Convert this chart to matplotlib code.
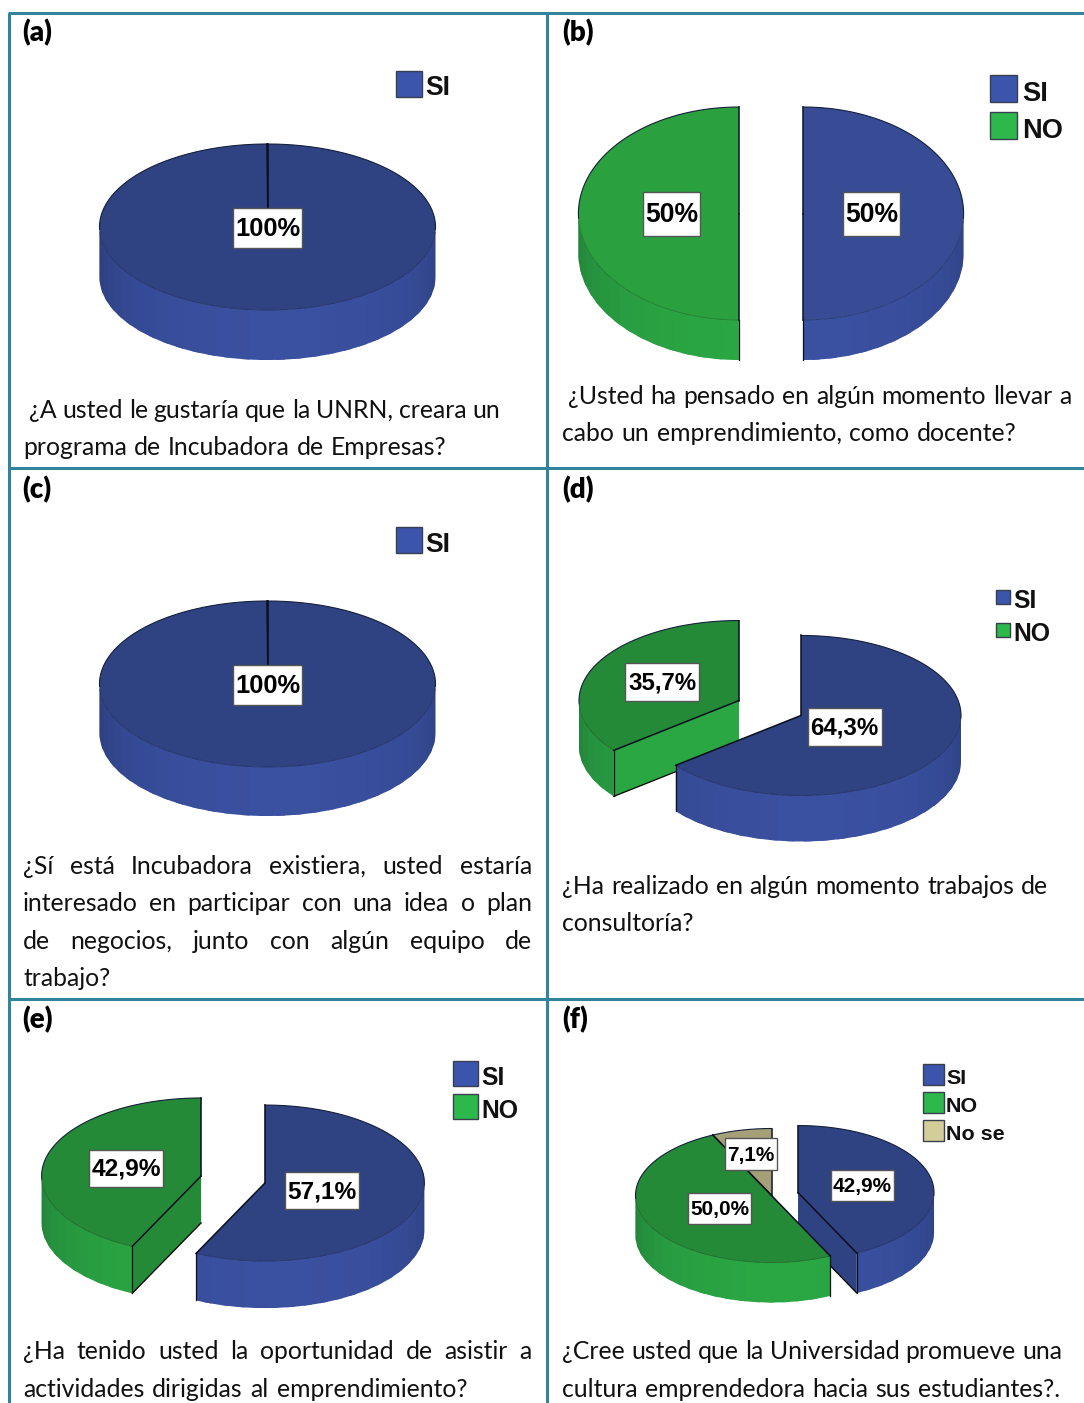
import numpy as np
import matplotlib
matplotlib.use('Agg')
from matplotlib import pyplot as plt
from matplotlib.colors import to_rgb
from matplotlib.patches import Polygon, Rectangle

# survey answers per panel, in percent
labels_a = ['SI']
values_a = [100]
labels_b = ['SI', 'NO']
values_b = [50, 50]
labels_c = ['SI']
values_c = [100]
labels_d = ['SI', 'NO']
values_d = [64.3, 35.7]
labels_e = ['SI', 'NO']
values_e = [57.1, 42.9]
labels_f = ['SI', 'NO', 'No se']
values_f = [42.9, 50.0, 7.1]

question_a = [(' ¿A usted le gustaría que la UNRN, creara un', 29, 500, 410),
              ('programa de Incubadora de Empresas?', 23, 446, 447)]
question_b = [('¿Usted ha pensado en algún momento llevar a', 568, 1071, 396),
              ('cabo un emprendimiento, como docente?', 562, 1017, 433)]
question_c = [('¿Sí está Incubadora existiera, usted estaría', 23, 532, 866),
              ('interesado en participar con una idea o plan', 23, 532, 903),
              ('de negocios, junto con algún equipo de', 23, 532, 941),
              ('trabajo?', 23, 113, 978)]
question_d = [('¿Ha realizado en algún momento trabajos de', 562, 1048, 886),
              ('consultoría?', 562, 695, 923)]
question_e = [('¿Ha tenido usted la oportunidad de asistir a', 23, 532, 1351),
              ('actividades dirigidas al emprendimiento?', 23, 467, 1389)]
question_f = [('¿Cree usted que la Universidad promueve una', 562, 1062, 1351),
              ('cultura emprendedora hacia sus estudiantes?.', 562, 1060, 1389)]

TEAL = '#31849B'
BODY_FONT = 'Lato'
MARK_FONT = 'Liberation Sans'
BODY_SIZE = 17.8

# colours per answer: top face, bright wall, dark wall, legend swatch
PALETTE = {
    'SI': ('#2F4282', '#3A50A0', '#2B3D7A', '#3B55AC'),
    'NO': ('#258A38', '#2AA643', '#22803A', '#2CB84A'),
    'No se': ('#A5A077', '#C4BF90', '#96916B', '#D2CD99'),
}

fig = plt.figure(figsize=(10.84, 14.03), dpi=100)
ax = fig.add_axes([0, 0, 1, 1])
ax.set_xlim(0, 1084)
ax.set_ylim(1403, 0)
ax.axis('off')


def mix(c1, c2, t):
    a, b = np.array(to_rgb(c1)), np.array(to_rgb(c2))
    return tuple(a + (b - a) * t)


def rim(cx, cy, rx, ry, th):
    # th is clockwise from twelve o'clock, in degrees
    r = np.radians(th)
    return cx + rx * np.sin(r), cy - ry * np.cos(r)


def draw_slice(cx, cy, rx, ry, depth, th1, th2, colors, top_color, z):
    top, bright, dark, _ = colors
    if top_color is not None:
        top = top_color
    s1, s2 = np.sin(np.radians(th1)), np.sin(np.radians(th2))

    # cut faces that turn towards the viewer
    for th, facing, ny in [(th1, s1 < -1e-6, s1), (th2, s2 > 1e-6, -s2)]:
        if not facing:
            continue
        x, y = rim(cx, cy, rx, ry, th)
        col = bright if -ny > 0.6 else top
        ax.add_patch(Polygon([(cx, cy), (x, y), (x, y + depth), (cx, cy + depth)],
                             closed=True, fc=col, ec='none', zorder=z))
        ax.plot([x, cx], [y + depth, cy + depth], color='black', lw=0.9, zorder=z + 0.1)

    # outer wall, strips overlap the next one so no seams show between them
    a = max(th1, 90)
    b = min(th2, 270)
    if b > a:
        edges = np.linspace(a, b, max(2, int((b - a) / 6)) + 1)
        for e1, e2 in zip(edges[:-1], edges[1:]):
            mid = (e1 + e2) / 2
            t = 1 - (abs(mid - 175) / 95) ** 2.2
            col = mix(dark, bright, np.clip(t, 0, 1))
            fine = np.linspace(e1, min(e2 + 3, b), 8)
            xs, ys = rim(cx, cy, rx, ry, fine)
            pts = list(zip(xs, ys)) + list(zip(xs[::-1], ys[::-1] + depth))
            ax.add_patch(Polygon(pts, closed=True, fc=col, ec='none', zorder=z + 0.05))

    # top face
    arc = np.linspace(th1, th2, 240)
    xs, ys = rim(cx, cy, rx, ry, arc)
    full = th2 - th1 >= 359.9
    pts = list(zip(xs, ys)) if full else [(cx, cy)] + list(zip(xs, ys))
    ax.add_patch(Polygon(pts, closed=True, fc=top, ec='none', zorder=z + 0.2))

    # rim lines: dark at the back, faint along the front
    back = np.cos(np.radians(arc)) >= -0.05
    bx, by = xs.copy(), ys.copy()
    bx[~back] = np.nan
    ax.plot(bx, by, color='#15203A', lw=0.8, zorder=z + 0.3)
    fx, fy = xs.copy(), ys.copy()
    fx[back] = np.nan
    ax.plot(fx, fy, color=mix(top, '#000000', 0.25), lw=0.6, zorder=z + 0.3)

    # straight edges of the slice
    for th in (th1, th2):
        x, y = rim(cx, cy, rx, ry, th)
        ax.plot([cx, x], [cy, y], color='#0A0F1E', lw=1.1, zorder=z + 0.35)
        if np.cos(np.radians(th)) < 0.01:
            ax.plot([x, x], [y, y + depth], color='#0A0F1E', lw=0.9, zorder=z + 0.35)


def draw_pie(labels, values, cx, cy, rx, ry, depth, explode, tops=None):
    total = sum(values)
    parts = []
    start = 0.0
    for i, v in enumerate(values):
        end = start + 360.0 * v / total
        parts.append((labels[i], start, end, explode[i]))
        start = end
    # slices nearer the viewer are painted last
    parts.sort(key=lambda p: -np.cos(np.radians((p[1] + p[2]) / 2)))
    for n, (name, th1, th2, ex) in enumerate(parts):
        mid = np.radians((th1 + th2) / 2)
        px = cx + ex * rx * np.sin(mid)
        py = cy - ex * ry * np.cos(mid)
        top = None if tops is None else tops[name]
        draw_slice(px, py, rx, ry, depth, th1, th2, PALETTE[name], top, 3 + n)


def draw_tags(values, spots, px, decimals, w, h):
    for v, (x, y) in zip(values, spots):
        txt = f'{v:.{decimals}f}%'.replace('.', ',')
        ax.add_patch(Rectangle((x - w / 2, y - h / 2), w, h, fc='white', ec='#555555',
                               lw=1, zorder=19))
        ax.text(x, y + 1, txt, fontsize=px * 0.72, fontweight='bold', family=MARK_FONT,
                ha='center', va='center', zorder=20, color='black')


def draw_legend(labels, x, ys, size, px, text_x, shift):
    for name, y in zip(labels, ys):
        ax.add_patch(Rectangle((x, y), size, size, fc=PALETTE[name][3], ec='#3A3F50',
                               lw=1, zorder=5))
        ax.text(text_x, y + size * 0.6 + shift, name, fontsize=px * 0.72, fontweight='bold',
                family=MARK_FONT, va='center', ha='left', color='#111111', zorder=5)


def draw_question(lines):
    # each line is stretched word by word between its two ends
    renderer = fig.canvas.get_renderer()
    inv = ax.transData.inverted()
    for line, x0, x1, y in lines:
        words = line.split()
        items = [ax.text(0, y + 8, w, fontsize=BODY_SIZE, family=BODY_FONT, color='#111111',
                         va='baseline', ha='left') for w in words]
        widths = []
        for t in items:
            bb = t.get_window_extent(renderer)
            widths.append(inv.transform((bb.x1, 0))[0] - inv.transform((bb.x0, 0))[0])
        gap = (x1 - x0 - sum(widths)) / max(1, len(words) - 1)
        x = x0
        for t, w in zip(items, widths):
            t.set_x(x)
            x += w + gap


# table rules
for y in (13, 468, 999):
    ax.plot([8, 1084], [y, y], color=TEAL, lw=2.2, solid_capstyle='butt', zorder=30)
for x in (8.5, 547):
    ax.plot([x, x], [13, 1403], color=TEAL, lw=2.2, solid_capstyle='butt', zorder=30)

# panel letters
for letter, x, y in [('(a)', 22, 41), ('(b)', 562, 41), ('(c)', 22, 498),
                     ('(d)', 562, 498), ('(e)', 22, 1028), ('(f)', 562, 1028)]:
    ax.text(x, y, letter, fontsize=20, fontweight='heavy', family=BODY_FONT, va='baseline',
            color='black')

# (a)
draw_pie(labels_a, values_a, 267.5, 227, 168, 83, 50, [0])
draw_tags(values_a, [(267.5, 228)], 25.5, 0, 69, 40)
draw_legend(labels_a, 396, [70.5], 26, 26.5, 425, 2)
draw_question(question_a)

# (b)
draw_pie(labels_b, values_b, 771, 213.5, 160.5, 106.5, 40, [0.2, 0.2],
         tops={'SI': '#374C95', 'NO': '#2AA03F'})
draw_tags(values_b, [(871.5, 214), (671.5, 214)], 26.5, 0, 57, 44)
draw_legend(labels_b, 990, [75, 112], 27, 27.3, 1022, 3)
draw_question(question_b)

# (c)
draw_pie(labels_c, values_c, 267.5, 684, 168, 83, 49, [0])
draw_tags(values_c, [(267.5, 685)], 25.5, 0, 69, 40)
draw_legend(labels_c, 396, [527], 26, 26.5, 425, 2)
draw_question(question_c)

# (d)
draw_pie(labels_d, values_d, 770, 708, 160, 80, 46, [0.215, 0.215])
draw_tags(values_d, [(844.5, 727), (662, 682)], 24, 1, 74, 38)
draw_legend(labels_d, 995.5, [589.5, 622.5], 14, 24.7, 1013, 3.5)
draw_question(question_d)

# (e)
draw_pie(labels_e, values_e, 233, 1179.5, 159.5, 78, 47, [0.205, 0.205])
draw_tags(values_e, [(321.5, 1190.5), (126, 1168)], 24.5, 1, 74, 37)
draw_legend(labels_e, 453, [1061, 1094], 24.5, 24.7, 481, 2)
draw_question(question_e)

# (f)
draw_pie(labels_f, values_f, 771.5, 1195.5, 136, 67, 40, [0.2, 0, 0])
draw_tags(values_f[:2], [(862.5, 1185.5), (719.5, 1208)], 20.8, 1, 63, 31)
draw_tags(values_f[2:], [(751, 1154)], 20.8, 1, 52, 32)
draw_legend(labels_f, 923, [1064, 1092, 1120], 21, 21.5, 946, 2)
draw_question(question_f)

fig.savefig('out.png', dpi=100, facecolor='white')
